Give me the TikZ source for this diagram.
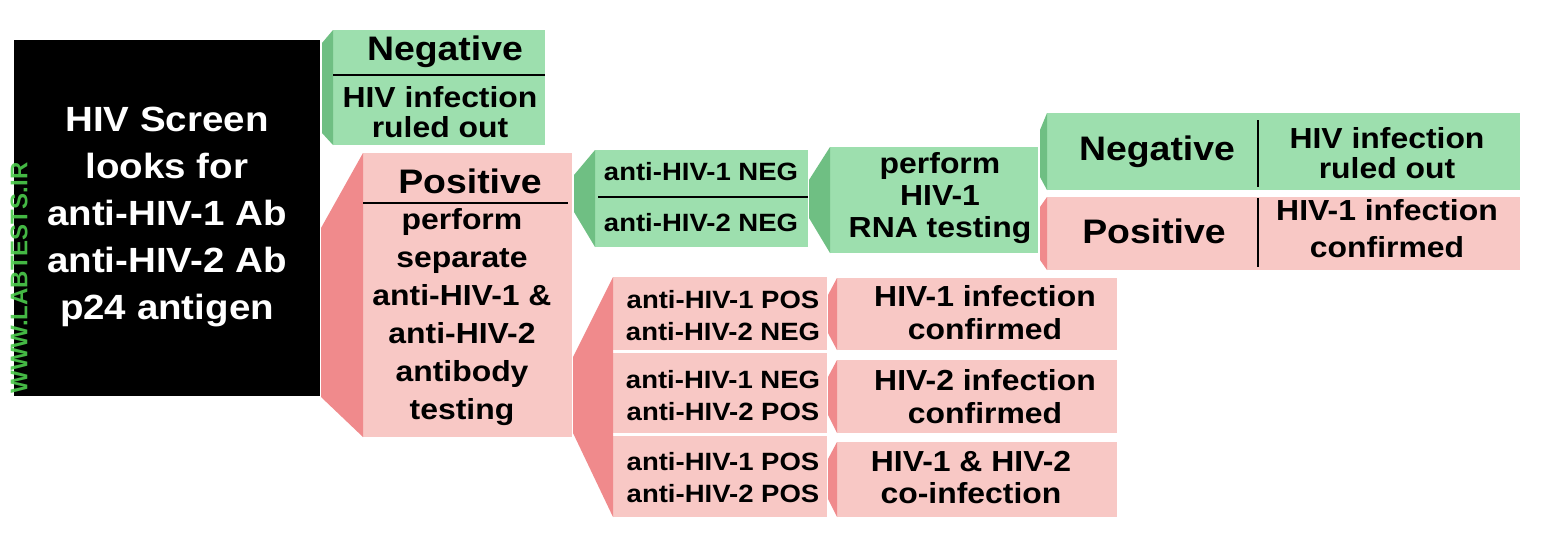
\documentclass[tikz,border=0pt]{standalone}
\usepackage{fontspec}
\newfontfamily\labfont[FakeStretch=1.1]{Liberation Sans}
\newfontfamily\wmfont{Liberation Sans}

\definecolor{lgreen}{HTML}{9DDFAE}
\definecolor{dgreen}{HTML}{6FBF83}
\definecolor{lpink}{HTML}{F8C8C5}
\definecolor{dpink}{HTML}{F08A8C}
\definecolor{wmgreen}{HTML}{4CCB4C}

\begin{document}
\begin{tikzpicture}[
  x=1pt,
  y=-1pt,
  line cap=butt,
  line join=miter,
  box/.style={rectangle, inner sep=0pt, outer sep=0pt, anchor=north west},
  gbox/.style={box, fill=lgreen},
  pbox/.style={box, fill=lpink},
  gbevel/.style={fill=dgreen},
  pbevel/.style={fill=dpink},
  rule/.style={line width=2.5pt, black},
  txt/.style={align=center, inner sep=0pt},
  head/.style={txt, font=\labfont\bfseries\fontsize{34}{40}\selectfont},
  body/.style={txt, font=\labfont\bfseries\fontsize{29}{#1}\selectfont},
  body/.default=30,
  small/.style={txt, font=\labfont\bfseries\fontsize{25}{32}\selectfont},
]

  \fill[white] (0,0) rectangle (1541,546);
  \useasboundingbox (0,0) rectangle (1541,546);

  \node[box, fill=black, minimum width=306pt, minimum height=356pt] (screen) at (14,40) {};
  \node[txt, text=white, font=\labfont\bfseries\fontsize{35}{47}\selectfont] (screentxt) at (167,217)
    {HIV Screen\\looks for\\anti-HIV-1 Ab\\anti-HIV-2 Ab\\p24 antigen};
  \node[rotate=90, inner sep=0pt, text=wmgreen, opacity=0.9, font=\wmfont\bfseries\fontsize{24}{24}\selectfont] (wm) at (19,278) {WWW.LABTESTS.IR};

  \node[gbox, minimum width=212pt, minimum height=115pt] (neg1) at (333,30) {};
  \fill[gbevel] (neg1.north west) -- ++(-11,13) -- ++(0,90) -- (neg1.south west) -- cycle;
  \draw[rule] (333,75) -- (neg1.east |- 0,75);
  \node[head] (neg1a) at (445,52) {Negative};
  \node[body] (neg1b) at (440,112) {HIV infection\\ruled out};

  \node[pbox, minimum width=209pt, minimum height=284pt] (pos1) at (363,153) {};
  \fill[pbevel] (pos1.north west) -- ++(-42,75) -- ++(0,169) -- (pos1.south west) -- cycle;
  \draw[rule] (363,203) -- (568,203);
  \node[head] (pos1a) at (470,181) {Positive};
  \node[body=38] (pos1b) at (462,317) {perform\\separate\\anti-HIV-1 \&\\anti-HIV-2\\antibody\\testing};

  \node[gbox, minimum width=213pt, minimum height=97pt] (negneg) at (595,150) {};
  \fill[gbevel] (negneg.north west) -- ++(-21,25) -- ++(0,37) -- (negneg.south west) -- cycle;
  \draw[rule] (598,197) -- (negneg.east |- 0,197);
  \node[small] (negnega) at (701,172) {anti-HIV-1 NEG};
  \node[small] (negnegb) at (701,223) {anti-HIV-2 NEG};

  \node[gbox, minimum width=208pt, minimum height=106pt] (rna) at (830,147) {};
  \fill[gbevel] (rna.north west) -- ++(-21,33) -- ++(0,38) -- (rna.south west) -- cycle;
  \node[body=32] (rnatxt) at (940,198) {perform\\HIV-1\\RNA testing};

  \node[gbox, minimum width=473pt, minimum height=77pt] (negr) at (1047,113) {};
  \fill[gbevel] (negr.north west) -- ++(-7,17) -- ++(0,47) -- (negr.south west) -- cycle;
  \draw[rule] (1258,120) -- (1258,187);
  \node[head] (negra) at (1157,152) {Negative};
  \node[body] (negrb) at (1387,153) {HIV infection\\ruled out};

  \node[pbox, minimum width=473pt, minimum height=73pt] (posr) at (1047,197) {};
  \fill[pbevel] (posr.north west) -- ++(-7,10) -- ++(0,53) -- (posr.south west) -- cycle;
  \draw[rule] (1258,198) -- (1258,267);
  \node[head] (posra) at (1154,231) {Positive};
  \node[body=37] (posrb) at (1387,229) {HIV-1 infection\\confirmed};

  \node[pbox, minimum width=214pt, minimum height=73pt] (ab1) at (613,277) {};
  \node[pbox, minimum width=214pt, minimum height=80pt] (ab2) at (613,353) {};
  \node[pbox, minimum width=214pt, minimum height=81pt] (ab3) at (613,436) {};
  \fill[pbevel] (ab1.north west) -- ++(-40,80) -- ++(0,76) -- (ab3.south west) -- cycle;
  \node[small] (ab1txt) at (723,316) {anti-HIV-1 POS\\anti-HIV-2 NEG};
  \node[small] (ab2txt) at (723,396) {anti-HIV-1 NEG\\anti-HIV-2 POS};
  \node[small] (ab3txt) at (723,478) {anti-HIV-1 POS\\anti-HIV-2 POS};

  \node[pbox, minimum width=280pt, minimum height=72pt] (res1) at (837,278) {};
  \node[pbox, minimum width=280pt, minimum height=73pt] (res2) at (837,360) {};
  \node[pbox, minimum width=280pt, minimum height=75pt] (res3) at (837,442) {};
  \fill[pbevel] (res1.north west) -- ++(-9,17) -- ++(0,38) -- (res1.south west) -- cycle;
  \fill[pbevel] (res2.north west) -- ++(-9,17) -- ++(0,38) -- (res2.south west) -- cycle;
  \fill[pbevel] (res3.north west) -- ++(-9,17) -- ++(0,40) -- (res3.south west) -- cycle;
  \node[body=33] (res1txt) at (985,313) {HIV-1 infection\\confirmed};
  \node[body=33] (res2txt) at (985,397) {HIV-2 infection\\confirmed};
  \node[body=32] (res3txt) at (971,478) {HIV-1 \& HIV-2\\co-infection};

\end{tikzpicture}
\end{document}
